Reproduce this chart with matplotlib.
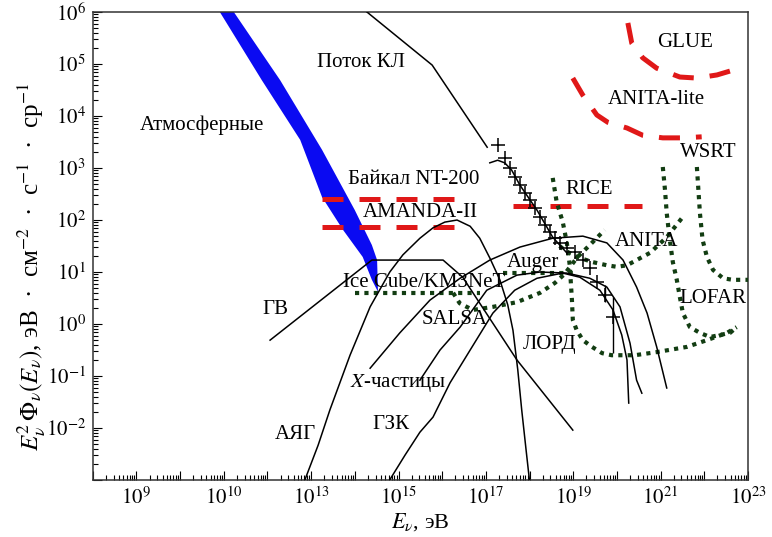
import numpy as np
import matplotlib.pyplot as plt
from matplotlib.ticker import FixedLocator, FixedFormatter, LogLocator, NullFormatter

plt.rcParams['font.family'] = ['Liberation Serif', 'DejaVu Serif']
plt.rcParams['mathtext.fontset'] = 'stix'

# all values are log10(E_nu / eV) and log10(E^2 Phi)
atm_left_lgE = [10.78, 10.91, 11.87, 12.75, 13.25, 13.73, 14.18, 14.39, 14.53]
atm_left_lgF = [6.19, 6.0, 4.69, 3.54, 2.44, 1.81, 1.29, 0.85, 0.62]
atm_right_lgE = [11.10, 11.23, 12.29, 13.25, 14.00, 14.39, 14.51, 14.53]
atm_right_lgF = [6.19, 6.0, 4.69, 3.35, 2.19, 1.52, 1.23, 0.62]

cr_line_lgE = [14.00, 15.77, 17.03]
cr_line_lgF = [6.19, 4.98, 3.40]
cr_fit_lgE = [17.09, 17.27, 17.43, 17.59, 17.78, 18.17, 18.53, 18.85]
cr_fit_lgF = [3.10, 3.15, 3.10, 2.96, 2.67, 2.19, 1.67, 1.37]
cr_pts_lgE = [17.27, 17.43, 17.55, 17.66, 17.78, 17.89, 18.00, 18.12, 18.23, 18.35,
              18.46, 18.58, 18.69, 18.85, 19.03, 19.22, 19.38, 19.54, 19.72, 19.91]
cr_pts_lgF = [3.44, 3.19, 3.00, 2.83, 2.67, 2.52, 2.38, 2.23, 2.06, 1.90,
              1.77, 1.65, 1.56, 1.46, 1.38, 1.23, 1.08, 0.81, 0.56, 0.13]
cr_bar_lgE = [19.72, 19.91]
cr_bar_lo = [0.42, -0.56]
cr_bar_hi = [0.75, 0.52]

# red dashed limits
baikal_lgE = [13.25, 16.34]
baikal_lgF = [2.40, 2.40]
amanda_lgE = [13.25, 16.34]
amanda_lgF = [1.87, 1.87]
rice_lgE = [17.62, 20.57]
rice_lgF = [2.27, 2.27]
anitalite_lgE = [18.99, 19.22, 19.54, 19.79, 20.23, 20.59, 21.05, 21.51, 21.94]
anitalite_lgF = [4.73, 4.40, 4.02, 3.88, 3.77, 3.63, 3.58, 3.58, 3.60]
glue_lgE = [20.25, 20.34, 20.59, 20.91, 21.44, 21.83, 22.29, 22.65]
glue_lgF = [5.79, 5.40, 5.12, 4.92, 4.75, 4.73, 4.79, 4.88]

# green dotted sensitivities
icecube_lgE = [14.00, 16.87]
icecube_lgF = [0.60, 0.60]
auger_lgE = [17.39, 19.10]
auger_lgF = [0.98, 0.98]
salsa_lgE = [16.25, 16.40, 16.70, 17.16, 17.71, 18.24, 18.58, 18.80, 19.10, 19.38, 19.72]
salsa_lgF = [0.60, 0.40, 0.27, 0.33, 0.42, 0.60, 0.79, 0.96, 1.29, 1.52, 1.81]
anita_lgE = [18.69, 18.80, 19.08, 19.45, 19.77, 20.00, 20.23, 20.45, 20.76, 21.14, 21.49]
anita_lgF = [1.50, 1.42, 1.29, 1.19, 1.13, 1.10, 1.13, 1.23, 1.37, 1.67, 2.04]
lord_lgE = [18.53, 18.62, 18.76, 18.85, 18.92, 18.97, 18.99, 19.08, 19.22, 19.43, 19.66,
            19.88, 20.41, 20.91, 21.60, 22.06, 22.52, 22.74]
lord_lgF = [2.81, 2.35, 1.96, 1.58, 1.13, 0.46, 0.08, -0.12, -0.31, -0.44, -0.56,
            -0.60, -0.60, -0.54, -0.44, -0.31, -0.17, -0.06]
lofar_lgE = [21.05, 21.10, 21.14, 21.21, 21.28, 21.37, 21.44, 21.51, 21.67, 21.90,
             22.13, 22.36, 22.59, 22.74]
lofar_lgF = [3.02, 2.58, 2.13, 1.62, 1.19, 0.85, 0.52, 0.21, -0.06, -0.17,
             -0.25, -0.21, -0.17, -0.06]
wsrt_lgE = [21.83, 21.90, 21.96, 22.06, 22.20, 22.43, 22.65, 23.0]
wsrt_lgF = [3.02, 2.13, 1.62, 1.29, 1.04, 0.88, 0.85, 0.85]

# model fluxes (black lines)
grb_lgE = [12.06, 14.39, 16.02, 16.47, 17.71, 18.99]
grb_lgF = [-0.31, 1.23, 1.23, 0.90, -0.69, -2.04]
agn_lgE = [12.81, 13.16, 13.43, 13.89, 14.35, 14.80, 15.10, 15.49, 15.79, 16.06, 16.34,
           16.64, 16.86, 17.09, 17.32, 17.50, 17.62, 17.73, 17.82, 17.92, 18.01]
agn_lgF = [-3.10, -2.33, -1.65, -0.60, 0.33, 1.00, 1.33, 1.65, 1.85, 1.96, 2.00,
           1.88, 1.65, 1.27, 0.85, 0.37, -0.12, -0.88, -1.65, -2.42, -3.10]
xpart_lgE = [14.35, 15.03, 15.72, 16.41, 17.09, 17.78, 18.53, 19.22, 19.77, 20.14,
             20.45, 20.69, 20.91, 21.14]
xpart_lgF = [-0.85, -0.17, 0.46, 0.88, 1.23, 1.48, 1.65, 1.69, 1.56, 1.23,
             0.71, 0.21, -0.44, -1.23]
gzk_lgE = [14.76, 15.15, 15.49, 15.79, 16.18, 16.64, 17.16, 17.66, 18.17, 18.76,
           19.15, 19.61, 19.91, 20.11, 20.23, 20.27]
gzk_lgF = [-3.05, -2.52, -2.08, -1.79, -1.13, -0.50, 0.21, 0.65, 0.88, 0.98,
           0.90, 0.65, 0.27, -0.21, -0.69, -1.52]
td_lgE = [15.49, 15.95, 16.41, 17.02, 17.71, 18.24, 18.85, 19.38, 19.77, 20.07,
          20.30, 20.45, 20.57]
td_lgF = [-1.08, -0.50, -0.06, 0.65, 0.94, 1.00, 0.98, 0.88, 0.71, 0.33,
          -0.37, -1.08, -1.33]

labels = ['Атмосферные', 'Поток КЛ', 'Байкал NT-200', 'AMANDA-II', 'Ice Cube/KM3NeT',
          'ГВ', 'SALSA', '$X$-частицы', 'ГЗК', 'АЯГ', 'ЛОРД', 'Auger', 'RICE',
          'ANITA', 'WSRT', 'LOFAR', 'GLUE', 'ANITA-lite']
label_lgE = [9.08, 13.13, 13.84, 14.19, 13.73, 11.88, 15.54, 13.89, 14.41, 12.17,
             17.85, 17.48, 18.81, 19.95, 21.44, 21.44, 20.91, 19.79]
label_lgF = [3.83, 5.02, 2.77, 2.15, 0.79, 0.27, 0.08, -1.13, -1.94, -2.13,
             -0.40, 1.19, 2.58, 1.58, 3.29, 0.50, 5.42, 4.31]

xtick_lg = [9, 11, 13, 15, 17, 19, 21, 23]
xtick_txt = ['9', '10', '13', '15', '17', '19', '21', '23']
ytick_lg = [-2, -1, 0, 1, 2, 3, 4, 5, 6]


def L(v):
    return 10.0 ** np.asarray(v, dtype=float)


fig = plt.figure(figsize=(7.72, 5.37), dpi=100)
ax = fig.add_axes([0.1201, 0.1061, 0.8488, 0.8715])
ax.set_xscale('log')
ax.set_yscale('log')

ax.fill(L(atm_left_lgE + atm_right_lgE[::-1]), L(atm_left_lgF + atm_right_lgF[::-1]),
        color='#0a0af2', lw=0, zorder=2)

red = dict(color='#e01818', lw=3.6, linestyle=(0, (4.2, 3.2)), zorder=3)
for e, f in [(baikal_lgE, baikal_lgF), (amanda_lgE, amanda_lgF), (rice_lgE, rice_lgF),
             (anitalite_lgE, anitalite_lgF), (glue_lgE, glue_lgF)]:
    ax.plot(L(e), L(f), **red)

green = dict(color='#123d12', lw=3.0, linestyle=(0, (1, 1.25)), zorder=3)
for e, f in [(icecube_lgE, icecube_lgF), (auger_lgE, auger_lgF), (salsa_lgE, salsa_lgF),
             (anita_lgE, anita_lgF), (lord_lgE, lord_lgF), (lofar_lgE, lofar_lgF),
             (wsrt_lgE, wsrt_lgF)]:
    ax.plot(L(e), L(f), **green)

blk = dict(color='black', lw=1.1, zorder=4)
for e, f in [(grb_lgE, grb_lgF), (agn_lgE, agn_lgF), (xpart_lgE, xpart_lgF),
             (gzk_lgE, gzk_lgF), (td_lgE, td_lgF), (cr_line_lgE, cr_line_lgF),
             (cr_fit_lgE, cr_fit_lgF)]:
    ax.plot(L(e), L(f), **blk)

ax.plot(L(cr_pts_lgE), L(cr_pts_lgF), '+', color='black', ms=9.5, mew=1.1, zorder=5)
ax.vlines(L(cr_bar_lgE), L(cr_bar_lo), L(cr_bar_hi), color='black', lw=1.0, zorder=5)

for t, e, f in zip(labels, label_lgE, label_lgF):
    ax.text(10 ** e, 10 ** f, t, fontsize=15, ha='left', va='center', zorder=6)

ax.set_xlim(1e8, 1e23)
ax.set_ylim(1e-3, 1e6)

xdec = list(range(8, 24))
ax.xaxis.set_major_locator(FixedLocator(L(xdec)))
ax.xaxis.set_major_formatter(FixedFormatter(
    ['$10^{%s}$' % xtick_txt[xtick_lg.index(d)] if d in xtick_lg else '' for d in xdec]))
ydec = list(range(-3, 7))
ax.yaxis.set_major_locator(FixedLocator(L(ydec)))
ax.yaxis.set_major_formatter(FixedFormatter(
    ['$10^{%d}$' % d if d in ytick_lg else '' for d in ydec]))
for a in (ax.xaxis, ax.yaxis):
    a.set_minor_locator(LogLocator(base=10, subs=np.arange(2, 10), numticks=100))
    a.set_minor_formatter(NullFormatter())

ax.tick_params(which='both', direction='in', top=False, right=False, width=0.8,
               labelsize=15, pad=5)
ax.tick_params(which='major', length=6.5)
ax.tick_params(which='minor', length=3.5)
for s in ax.spines.values():
    s.set_color('#333333')
    s.set_linewidth(1.1)

ax.set_xlabel('$E_{\\nu}$, эВ', fontsize=16, labelpad=2)
ax.set_ylabel('$E_{\\nu}^{2}\\,\\Phi_{\\nu}(E_{\\nu})$, эВ  ·  см$^{-2}$  ·  с$^{-1}$  ·  ср$^{-1}$',
              fontsize=18)
ax.yaxis.set_label_coords(-0.07, 0.455)

fig.savefig('out.png', dpi=100)
